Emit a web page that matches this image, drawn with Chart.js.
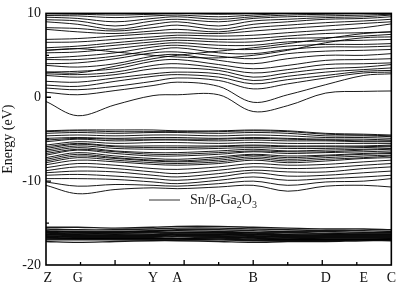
<!DOCTYPE html>
<html>
<head>
<meta charset="utf-8">
<script src="https://cdn.jsdelivr.net/npm/chart.js@4"></script>
<style>
  html, body { margin: 0; padding: 0; background: #fff; }
</style>
</head>
<body>
<canvas id="chart" width="401" height="286"></canvas>
<script>
// k-path positions (x) for the sampled points along Z-G-Y-A-B-D-E-C
let kPoints = [0, 0.92, 2, 3.1, 3.8, 5, 6, 7, 8.1, 9.2, 10];

// high-symmetry labels and where they sit on the k-path
let kLabels = ['Z', 'G', 'Y', 'A', 'B', 'D', 'E', 'C'];
let kLabelPos = [0.05, 0.92, 3.1, 3.8, 6, 8.1, 9.2, 10];

// energy axis labels
let energyTicks = [10, 0, -10, -20];

let seriesName = 'Sn/β-Ga2O3';

// conduction bands (eV)
let conductionBands = [
  [-0.5, -2.2, -0.9, 0.2, 0.3, 0.3, -1.7, -1.0, 0.5, 0.7, 0.75],
  [0.6, 0.3, 0.8, 1.4, 1.8, 1.3, -0.6, 0.3, 1.5, 2.6, 2.8],
  [1.1, 0.9, 1.3, 1.9, 2.3, 2.0, 1.0, 1.6, 2.3, 2.9, 3.0],
  [1.45, 1.3, 1.9, 2.5, 2.7, 2.4, 1.6, 2.1, 2.6, 3.1, 3.2],
  [1.9, 1.8, 2.3, 2.8, 3.0, 2.8, 2.0, 2.5, 3.0, 3.3, 3.5],
  [2.6, 2.4, 2.7, 3.4, 3.5, 3.2, 2.4, 2.9, 3.4, 3.6, 3.9],
  [2.8, 2.7, 3.0, 3.8, 4.0, 3.5, 2.9, 3.3, 3.9, 4.0, 4.1],
  [3.0, 3.1, 3.4, 4.3, 4.5, 3.9, 3.4, 3.8, 4.4, 4.5, 4.6],
  [3.0, 2.9, 3.7, 4.6, 5.0, 5.5, 5.9, 6.4, 7.0, 7.6, 7.8],
  [3.8, 3.6, 4.0, 4.9, 5.1, 4.4, 4.0, 4.6, 5.0, 5.0, 5.2],
  [4.0, 4.1, 4.6, 5.3, 5.4, 4.9, 4.6, 5.2, 5.5, 5.6, 5.7],
  [4.5, 4.5, 4.9, 5.6, 5.9, 5.3, 5.2, 5.7, 6.0, 6.0, 6.1],
  [4.7, 4.9, 5.3, 6.0, 6.2, 5.8, 5.7, 6.1, 6.3, 6.3, 6.4],
  [5.3, 5.4, 5.8, 6.3, 6.5, 6.2, 6.2, 6.6, 6.7, 6.8, 6.9],
  [5.6, 5.8, 5.4, 5.0, 4.8, 4.7, 5.0, 5.6, 6.5, 7.1, 7.2],
  [5.6, 5.8, 6.2, 6.6, 6.8, 6.6, 6.6, 7.0, 7.1, 7.3, 7.5],
  [5.9, 6.1, 6.5, 6.9, 7.1, 6.9, 7.0, 7.3, 7.6, 7.7, 7.8],
  [6.55, 6.6, 6.9, 7.2, 7.4, 7.3, 7.4, 7.7, 8.0, 8.3, 8.75],
  [6.9, 7.0, 7.3, 7.6, 7.7, 7.6, 7.9, 8.2, 8.5, 8.8, 9.0],
  [8.1, 7.8, 7.6, 7.9, 8.1, 7.8, 8.3, 8.6, 8.9, 9.1, 9.3],
  [8.3, 8.2, 7.9, 8.3, 8.6, 8.1, 8.7, 9.0, 9.3, 9.4, 9.6],
  [9.0, 8.7, 8.1, 8.7, 9.0, 8.5, 9.1, 9.3, 9.5, 9.6, 9.8],
  [9.25, 9.1, 8.5, 9.1, 9.3, 9.0, 9.4, 9.6, 9.7, 9.8, 9.9],
  [9.55, 9.4, 9.0, 9.4, 9.6, 9.3, 9.6, 9.8, 9.9, 10.0, 10.1],
  [9.75, 9.7, 9.5, 9.7, 9.8, 9.6, 9.8, 10.0, 10.1, 10.2, 10.3],
  [9.95, 9.9, 9.8, 9.9, 10.0, 9.9, 10.0, 10.2, 10.3, 10.4, 10.5]
];

// valence bands (eV)
let valenceBands = [
  [-4.0, -3.9, -3.9, -3.9, -4.0, -4.0, -3.9, -4.0, -4.3, -4.4, -4.5],
  [-4.1, -4.0, -4.1, -4.1, -4.1, -4.1, -4.0, -4.1, -4.4, -4.5, -4.6],
  [-4.3, -4.2, -4.3, -4.2, -4.2, -4.3, -4.2, -4.3, -4.6, -4.6, -4.7],
  [-4.6, -4.5, -4.6, -4.5, -4.5, -4.6, -4.5, -4.6, -4.8, -4.8, -4.9],
  [-4.9, -4.8, -4.9, -4.8, -4.8, -4.9, -4.8, -4.9, -5.0, -5.0, -5.1],
  [-5.1, -4.9, -5.0, -5.0, -5.0, -5.0, -4.9, -5.0, -5.1, -5.2, -5.2],
  [-5.3, -5.0, -5.2, -5.1, -5.1, -5.2, -5.1, -5.2, -5.2, -5.3, -5.3],
  [-5.7, -5.3, -5.5, -5.4, -5.4, -5.5, -5.4, -5.5, -5.5, -5.5, -5.5],
  [-5.9, -5.5, -5.8, -5.8, -5.8, -5.8, -5.7, -5.8, -5.8, -5.8, -5.7],
  [-6.1, -5.6, -5.9, -6.0, -6.0, -5.9, -5.8, -5.9, -5.9, -5.9, -5.8],
  [-6.3, -5.8, -6.1, -6.2, -6.2, -6.1, -6.0, -6.1, -6.1, -6.0, -5.9],
  [-6.5, -6.0, -6.4, -6.6, -6.6, -6.4, -6.2, -6.4, -6.3, -6.2, -6.1],
  [-6.7, -6.2, -6.5, -6.8, -6.8, -6.6, -6.4, -6.5, -6.5, -6.3, -6.2],
  [-6.9, -6.3, -6.7, -7.0, -7.0, -6.8, -6.5, -6.7, -6.6, -6.5, -6.4],
  [-7.2, -6.6, -7.0, -7.3, -7.4, -7.1, -6.8, -7.0, -6.9, -6.7, -6.6],
  [-7.4, -6.8, -7.2, -7.5, -7.6, -7.3, -6.9, -7.2, -7.0, -6.8, -6.7],
  [-7.6, -7.0, -7.3, -7.6, -7.7, -7.5, -7.1, -7.4, -7.2, -7.0, -6.9],
  [-7.8, -7.2, -7.5, -7.8, -7.9, -7.7, -7.3, -7.6, -7.4, -7.2, -7.0],
  [-8.05, -7.5, -7.7, -8.0, -8.1, -7.9, -7.5, -7.8, -7.6, -7.3, -7.2],
  [-8.4, -7.9, -8.1, -8.5, -8.6, -8.3, -7.9, -8.1, -8.0, -7.7, -7.5],
  [-8.75, -8.3, -8.5, -8.9, -9.1, -8.7, -8.3, -8.5, -8.4, -8.1, -7.9],
  [-9.0, -8.8, -8.9, -9.3, -9.5, -9.1, -8.7, -8.9, -8.9, -8.5, -8.3],
  [-9.3, -9.2, -9.4, -9.7, -9.9, -9.5, -9.0, -9.4, -9.3, -9.0, -8.8],
  [-9.7, -9.7, -9.8, -10.1, -10.3, -9.9, -9.5, -9.9, -9.7, -9.5, -9.3],
  [-10.1, -10.6, -10.4, -10.5, -10.6, -10.3, -10.0, -10.5, -10.1, -10.0, -9.7],
  [-10.5, -11.5, -11.0, -10.8, -10.9, -10.7, -10.5, -11.2, -10.6, -10.5, -10.7]
];

// deep (semi-core) bands (eV)
let coreBands = [
  [-15.5, -15.5, -15.6, -15.5, -15.4, -15.4, -15.5, -15.6, -15.7, -15.7, -15.8],
  [-15.7, -15.8, -15.8, -15.7, -15.6, -15.6, -15.7, -15.8, -15.9, -15.9, -16.0],
  [-15.9, -16.0, -16.0, -15.9, -15.8, -15.8, -15.9, -16.0, -16.0, -16.1, -16.1],
  [-16.0, -16.1, -16.1, -16.0, -15.9, -16.0, -16.1, -16.1, -16.2, -16.2, -16.2],
  [-16.1, -16.2, -16.2, -16.1, -16.1, -16.1, -16.2, -16.3, -16.3, -16.3, -16.3],
  [-16.2, -16.3, -16.3, -16.3, -16.2, -16.2, -16.3, -16.4, -16.4, -16.4, -16.4],
  [-16.3, -16.4, -16.4, -16.4, -16.3, -16.3, -16.4, -16.5, -16.5, -16.5, -16.5],
  [-16.4, -16.5, -16.5, -16.5, -16.4, -16.4, -16.5, -16.6, -16.6, -16.6, -16.6],
  [-16.5, -16.6, -16.6, -16.6, -16.5, -16.5, -16.6, -16.7, -16.7, -16.7, -16.7],
  [-16.6, -16.7, -16.7, -16.7, -16.6, -16.6, -16.7, -16.8, -16.8, -16.8, -16.8],
  [-16.7, -16.8, -16.8, -16.8, -16.8, -16.7, -16.8, -16.9, -16.9, -16.9, -16.9],
  [-16.8, -16.85, -16.85, -16.85, -16.85, -16.8, -16.9, -16.95, -16.95, -16.95, -16.9],
  [-16.9, -16.9, -16.9, -16.9, -16.9, -16.9, -17.0, -17.0, -17.0, -17.0, -16.9],
  [-17.0, -17.0, -17.0, -17.0, -17.0, -17.0, -17.1, -17.1, -17.1, -17.0, -17.0],
  [-17.2, -17.3, -17.2, -17.1, -17.1, -17.2, -17.3, -17.2, -17.2, -17.1, -17.1]
];

// tick marks drawn inward on the frame
let kMajorTicks = [2, 4, 6, 8];
let kMinorTicks = [1, 3, 5, 7, 9];
let eMajorTicks = [0, -10];
let eMinorTicks = [5, -5, -15];

const serif = "'Liberation Serif', 'Times New Roman', serif";

function bandDataset(energies, width) {
  return {
    label: seriesName,
    data: kPoints.map((k, i) => ({ x: k, y: energies[i] })),
    borderColor: 'rgba(0,0,0,0.9)',
    borderWidth: width,
    pointRadius: 0,
    tension: 0.35,
    fill: false
  };
}

let datasets = [];
for (let b of conductionBands) datasets.push(bandDataset(b, 1));
for (let b of valenceBands) datasets.push(bandDataset(b, 1));
for (let b of coreBands) datasets.push(bandDataset(b, 1.4));

// frame, inward ticks and the single legend entry
const framePlugin = {
  id: 'frame',
  afterDatasetsDraw(chart) {
    const { ctx, chartArea: a, scales: { x, y } } = chart;
    ctx.save();
    ctx.strokeStyle = '#000';
    ctx.lineWidth = 1.6;
    ctx.strokeRect(a.left, a.top, a.right - a.left, a.bottom - a.top);

    ctx.lineWidth = 1.3;
    ctx.beginPath();
    for (let v of kMajorTicks) {
      let px = x.getPixelForValue(v);
      ctx.moveTo(px, a.bottom); ctx.lineTo(px, a.bottom - 5);
    }
    for (let v of kMinorTicks) {
      let px = x.getPixelForValue(v);
      ctx.moveTo(px, a.bottom); ctx.lineTo(px, a.bottom - 3);
    }
    for (let v of eMajorTicks) {
      let py = y.getPixelForValue(v);
      ctx.moveTo(a.left, py); ctx.lineTo(a.left + 5, py);
    }
    for (let v of eMinorTicks) {
      let py = y.getPixelForValue(v);
      ctx.moveTo(a.left, py); ctx.lineTo(a.left + 3, py);
    }
    ctx.stroke();

    // legend: short line + Sn/β-Ga2O3 with subscripts
    let ly = y.getPixelForValue(-12.25);
    let lx = a.left + 103;
    ctx.strokeStyle = '#333';
    ctx.lineWidth = 1;
    ctx.beginPath();
    ctx.moveTo(lx, ly); ctx.lineTo(lx + 31, ly);
    ctx.stroke();

    ctx.fillStyle = '#222';
    ctx.textBaseline = 'alphabetic';
    let tx = lx + 41, base = ly + 4;
    const parts = [['Sn/β-Ga', false], ['2', true], ['O', false], ['3', true]];
    for (let [t, sub] of parts) {
      ctx.font = (sub ? '10px ' : '14px ') + serif;
      ctx.fillText(t, tx, sub ? base + 3.5 : base);
      tx += ctx.measureText(t).width;
    }
    ctx.restore();
  }
};

new Chart(document.getElementById('chart'), {
  type: 'line',
  data: { datasets: datasets },
  options: {
    responsive: false,
    animation: false,
    events: [],
    layout: { padding: { top: 6, right: 8, left: 0, bottom: 0 } },
    plugins: {
      legend: { display: false },
      tooltip: { enabled: false }
    },
    scales: {
      x: {
        type: 'linear',
        min: 0,
        max: 10,
        grid: { display: false, drawTicks: false },
        border: { display: false },
        afterBuildTicks: (axis) => {
          axis.ticks = kLabelPos.map(v => ({ value: v }));
        },
        afterFit: (scale) => { scale.height = 21; },
        ticks: {
          autoSkip: false,
          maxRotation: 0,
          padding: 5,
          color: '#111',
          font: { family: serif, size: 14 },
          callback: (val, i) => kLabels[i]
        }
      },
      y: {
        type: 'linear',
        min: -20,
        max: 10,
        grid: { display: false, drawTicks: false },
        border: { display: false },
        afterBuildTicks: (axis) => {
          axis.ticks = energyTicks.map(v => ({ value: v }));
        },
        afterFit: (scale) => { scale.width = 46; },
        ticks: {
          padding: 5,
          color: '#111',
          font: { family: serif, size: 14 }
        },
        title: {
          display: true,
          text: 'Energy (eV)',
          color: '#111',
          padding: { top: 0, bottom: 0 },
          font: { family: serif, size: 14 }
        }
      }
    }
  },
  plugins: [framePlugin]
});
</script>
</body>
</html>
